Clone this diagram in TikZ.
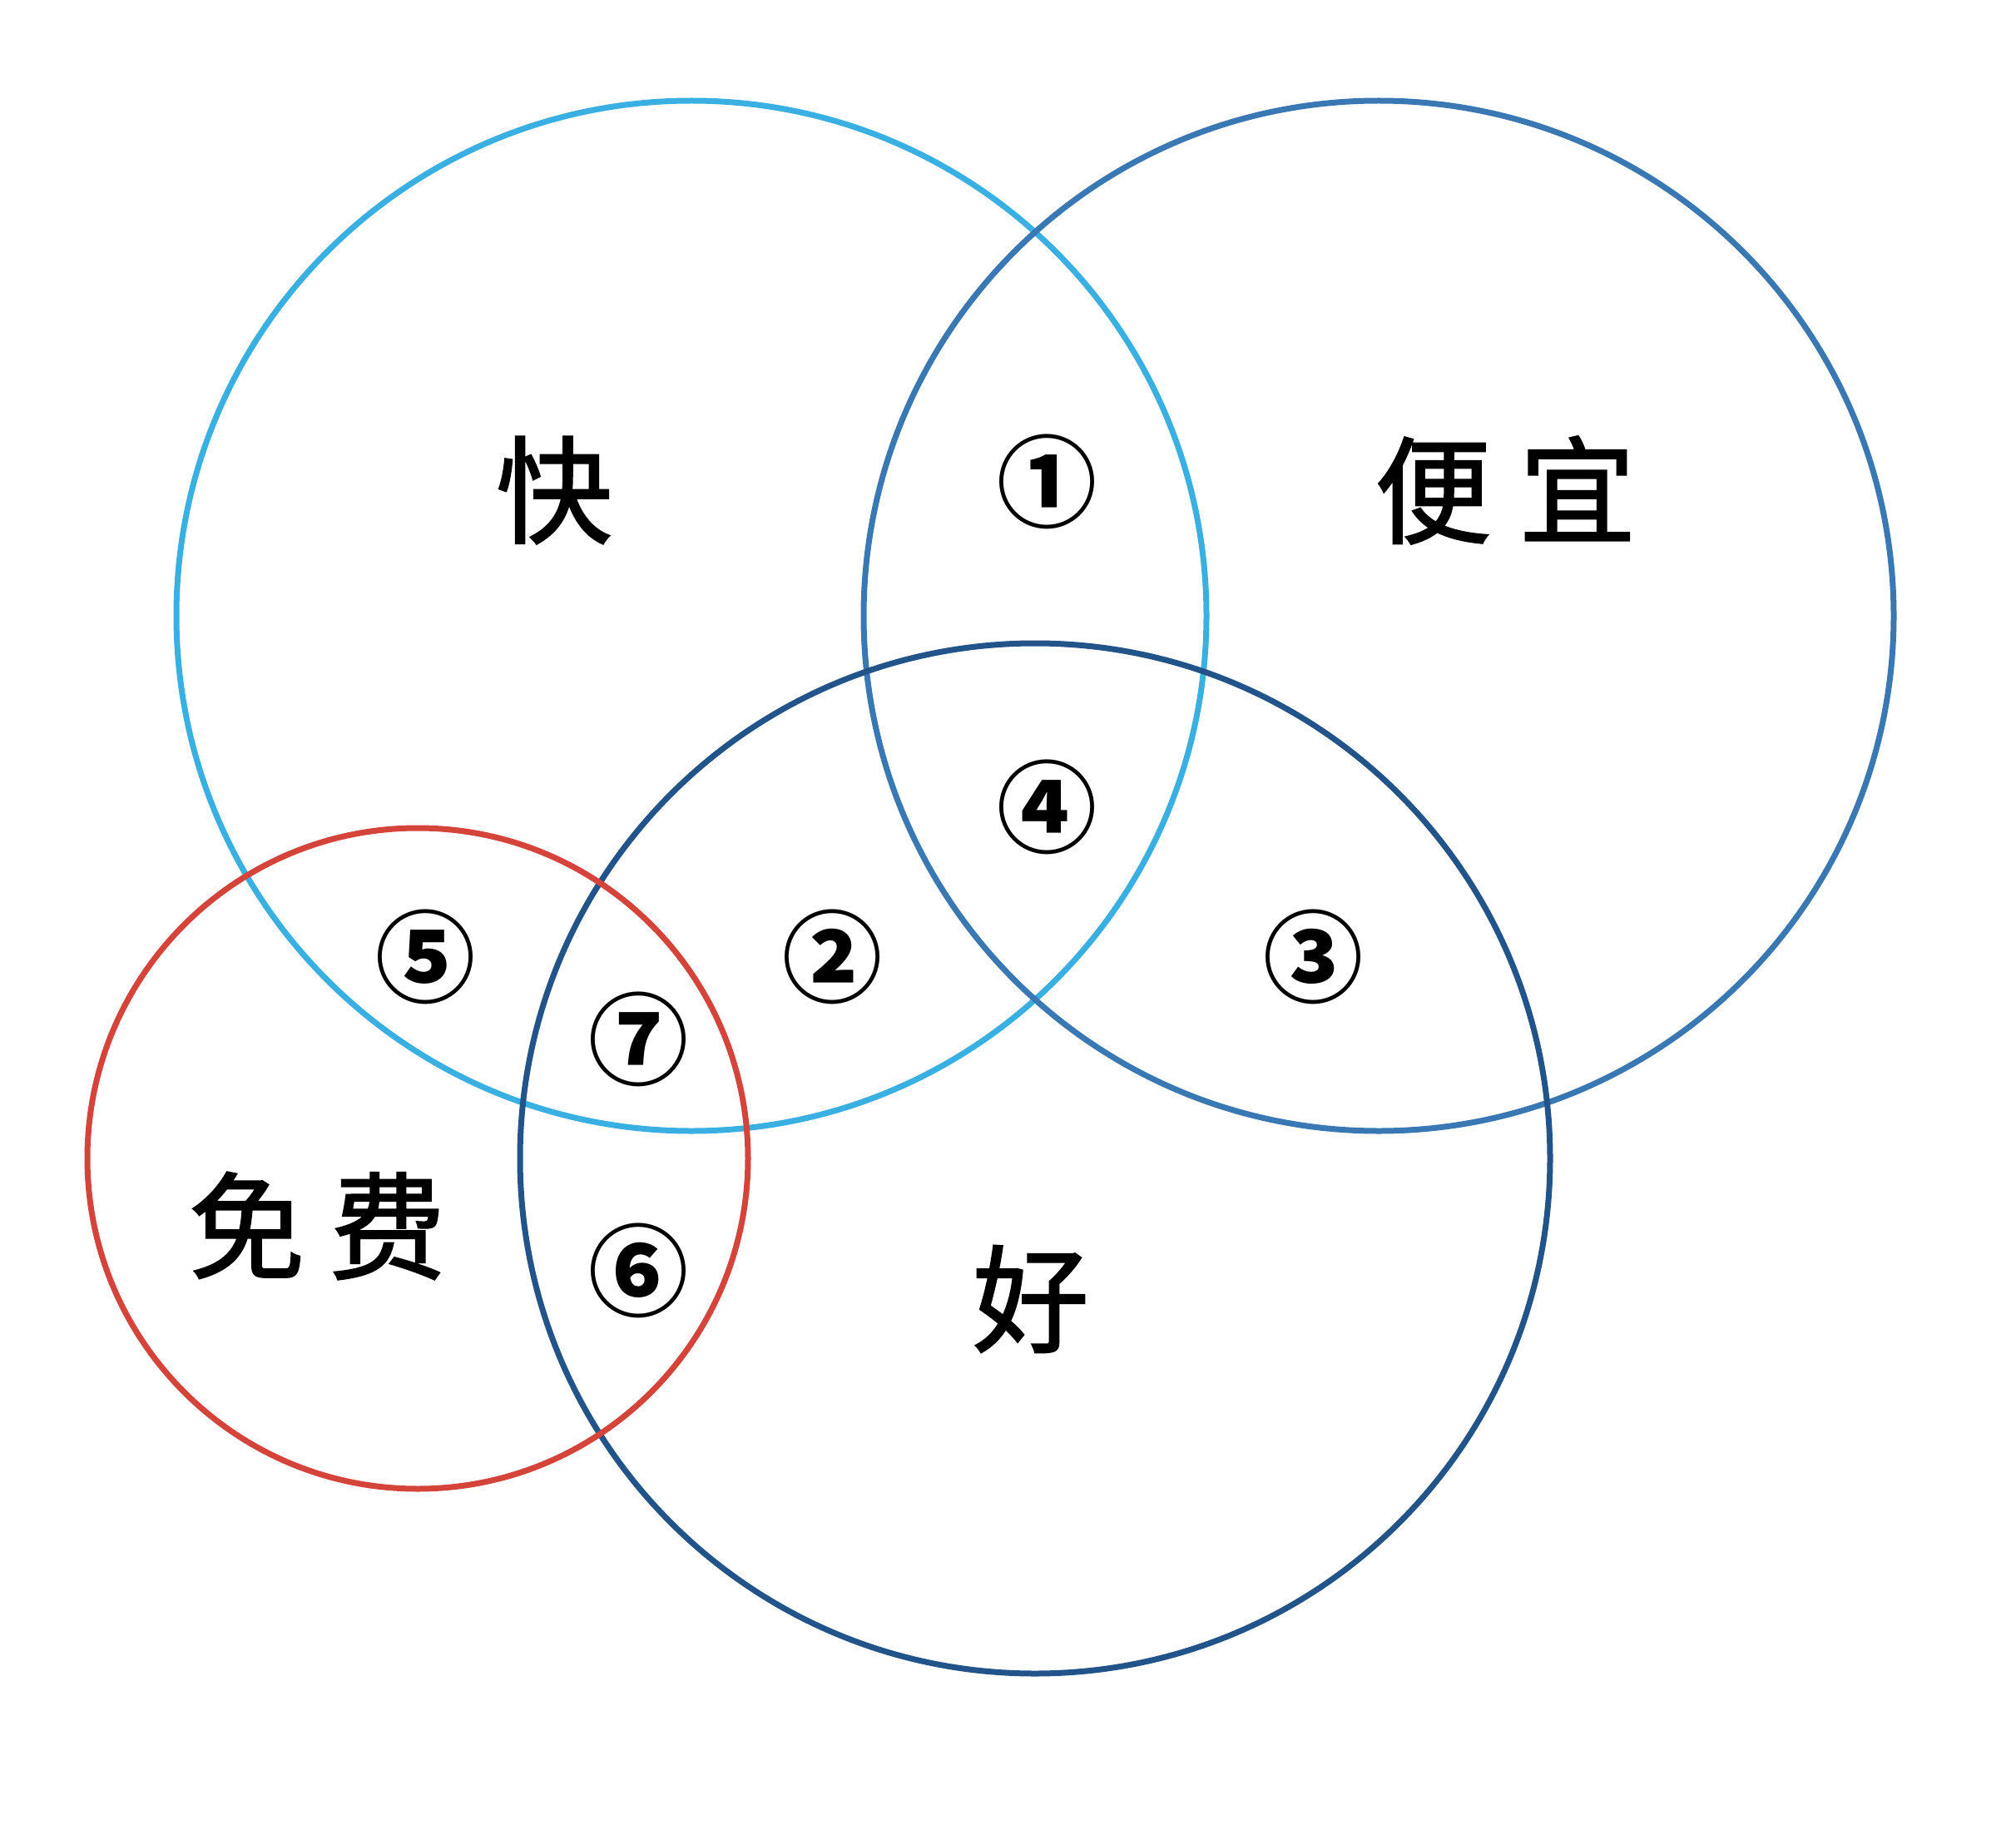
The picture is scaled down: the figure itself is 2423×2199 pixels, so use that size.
\documentclass[tikz,border=0pt]{standalone}
\usepackage{fontspec}
\newfontfamily\cjk{Noto Sans CJK SC}
\newfontfamily\cjkword{Noto Sans CJK SC}[FakeBold=1.5]
\definecolor{cfast}{HTML}{3AB0E2}
\definecolor{ccheap}{HTML}{3A78B4}
\definecolor{cgood}{HTML}{22548A}
\definecolor{cfree}{HTML}{D4443A}
\begin{document}
\begin{tikzpicture}[x=1pt,y=-1pt,
  ring/.style={line width=7pt},
  word/.style={font=\cjkword\fontsize{140}{140}\selectfont, inner sep=0pt},
  num/.style={font=\cjk\bfseries\fontsize{120}{120}\selectfont, inner sep=0pt}]
\useasboundingbox (0,0) rectangle (2423,2199);
\fill[white] (0,0) rectangle (2423,2199);
\draw[ring,cfast] (831,740) circle (619);
\draw[ring,ccheap] (1657,740) circle (619);
\draw[ring,cgood] (1244,1392) circle (619);
\draw[ring,cfree] (502,1392) circle (397);
\node[word] (kuai) at (666,589) {快};
\node[word] (pianyi) at (1809,589) {便\hspace{0.24em}宜};
\node[word] (hao) at (1239,1561) {好};
\node[word] (mianfei) at (381,1473) {免\hspace{0.21em}费};
\node[num] (n1) at (1258,579) {①};
\node[num] (n4) at (1258,970) {④};
\node[num] (n2) at (1000,1150) {②};
\node[num] (n3) at (1578,1150) {③};
\node[num] (n5) at (511,1150) {⑤};
\node[num] (n7) at (767,1249) {⑦};
\node[num] (n6) at (767,1527) {⑥};
\end{tikzpicture}
\end{document}
